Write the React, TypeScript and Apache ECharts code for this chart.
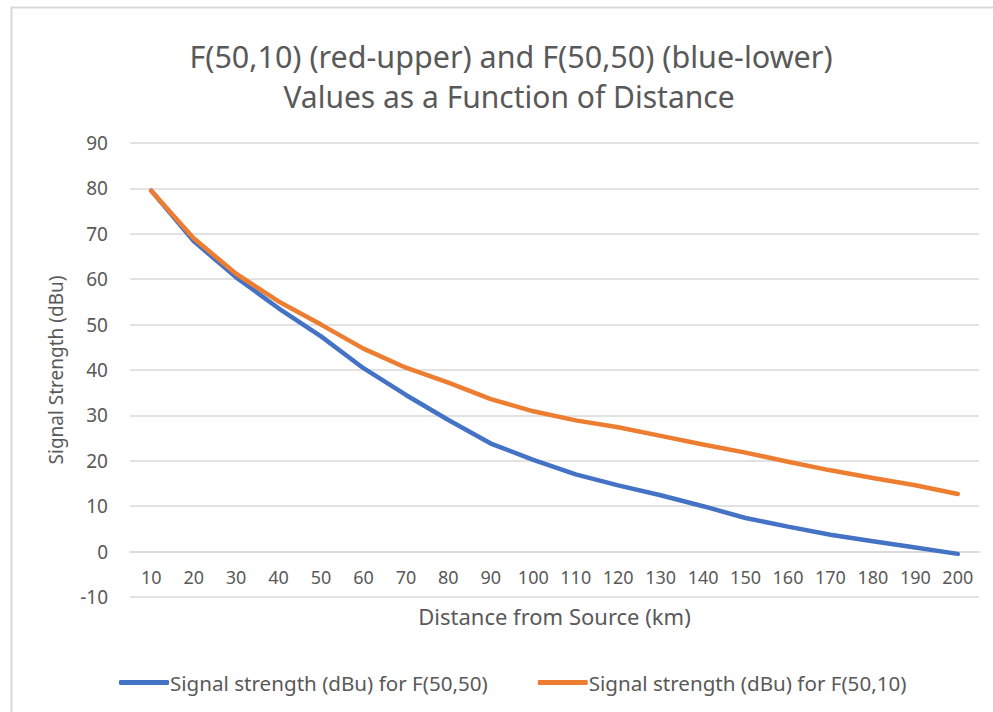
import React, { useEffect, useRef } from "react";
import * as echarts from "echarts";

const distances = ["10", "20", "30", "40", "50", "60", "70", "80", "90", "100", "110", "120", "130", "140", "150", "160", "170", "180", "190", "200"];
const f5050 = [79.5, 68.4, 60.4, 53.6, 47.4, 40.4, 34.5, 29.0, 23.8, 20.2, 17.0, 14.6, 12.4, 10.0, 7.4, 5.5, 3.7, 2.3, 0.9, -0.5];
const f5010 = [79.5, 69.0, 61.2, 55.1, 50.0, 44.7, 40.5, 37.2, 33.6, 30.9, 28.9, 27.4, 25.5, 23.6, 21.8, 19.8, 17.9, 16.2, 14.6, 12.7];

const titleLines = ["F(50,10) (red-upper) and F(50,50) (blue-lower)", "Values as a Function of Distance"];
const seriesNames = ["Signal strength (dBu) for F(50,50)", "Signal strength (dBu) for F(50,10)"];
const FONT = "'Noto Sans', sans-serif";

export default function App() {
  const ref = useRef<HTMLDivElement>(null);
  useEffect(() => {
    const chart = echarts.init(ref.current!, null, { renderer: "svg" });
    chart.setOption({
      animation: false,
      backgroundColor: "#ffffff",
      textStyle: { fontFamily: FONT },
      graphic: [
        {
          type: "rect",
          left: 9,
          top: 5,
          shape: { width: 1100, height: 800 },
          style: { fill: "none", stroke: "#d9d9d9", lineWidth: 2 },
          silent: true,
        },
        {
          type: "text",
          x: 511,
          y: 56,
          style: {
            text: titleLines[0],
            textAlign: "center",
            textVerticalAlign: "middle",
            fontFamily: FONT,
            fontSize: 30.5,
            fill: "#595959",
          },
        },
        {
          type: "text",
          x: 509,
          y: 96,
          style: {
            text: titleLines[1],
            textAlign: "center",
            textVerticalAlign: "middle",
            fontFamily: FONT,
            fontSize: 30,
            fill: "#595959",
          },
        },
      ],
      legend: {
        left: 114,
        top: 667,
        itemWidth: 50,
        itemHeight: 5,
        itemGap: 50,
        icon: "roundRect",
        textStyle: { fontFamily: FONT, fontSize: 20.6, color: "#595959", padding: [0, 0, 0, -4] },
        data: seriesNames,
      },
      grid: { left: 130, right: 14, top: 143, bottom: 115 },
      xAxis: {
        type: "category",
        data: distances,
        boundaryGap: true,
        offset: -45.4,
        axisLine: { show: true, onZero: false, lineStyle: { color: "#d9d9d9", width: 1.5 } },
        axisTick: { show: false },
        axisLabel: { fontFamily: FONT, fontSize: 18, color: "#595959", margin: 16 },
        name: "Distance from Source (km)",
        nameLocation: "middle",
        nameGap: 53,
        nameTextStyle: { fontFamily: FONT, fontSize: 22, color: "#595959" },
      },
      yAxis: {
        type: "value",
        min: -10,
        max: 90,
        interval: 10,
        axisLine: { show: false },
        axisTick: { show: false },
        axisLabel: { fontFamily: FONT, fontSize: 19, color: "#595959", margin: 22 },
        splitLine: { lineStyle: { color: "#d9d9d9", width: 1.5 } },
        name: "Signal Strength (dBu)",
        nameLocation: "middle",
        nameGap: 65,
        nameTextStyle: { fontFamily: FONT, fontSize: 19, color: "#595959" },
      },
      series: [
        {
          name: seriesNames[0],
          type: "line",
          data: f5050,
          showSymbol: false,
          symbol: "none",
          lineStyle: { color: "#4472C4", width: 4.5, cap: "round" },
          itemStyle: { color: "#4472C4" },
        },
        {
          name: seriesNames[1],
          type: "line",
          data: f5010,
          showSymbol: false,
          symbol: "none",
          lineStyle: { color: "#ED7D31", width: 4.5, cap: "round" },
          itemStyle: { color: "#ED7D31" },
        },
      ],
    });
    return () => chart.dispose();
  }, []);
  return <div ref={ref} style={{ position: "absolute", left: 0, top: 0, width: 993, height: 712 }} />;
}
